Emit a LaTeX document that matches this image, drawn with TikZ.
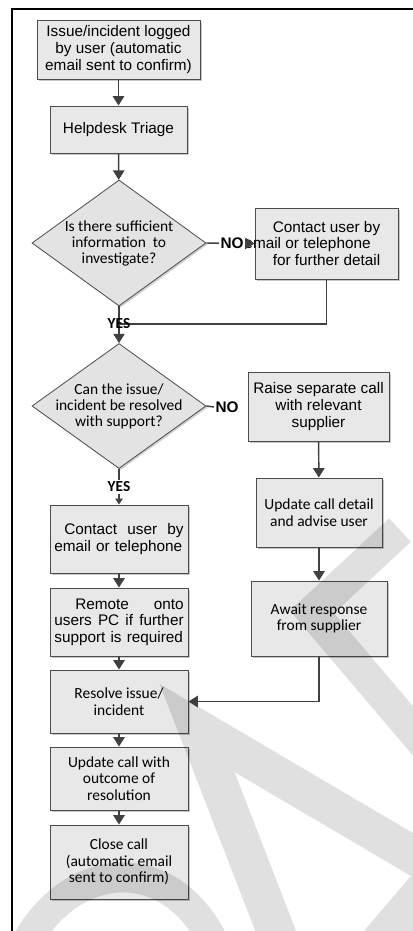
\documentclass[tikz,border=0pt]{standalone}
\usepackage{fontspec}
\setmainfont{Liberation Sans}
\newfontfamily\calibri{Carlito}
\usetikzlibrary{shapes.geometric,arrows.meta,shadows}

\begin{document}
\begin{tikzpicture}[x=0.75pt,y=-0.75pt,
    box/.style={draw=black!70,fill=black!9,line width=0.7pt,inner sep=0pt,align=center,
      drop shadow={shadow xshift=1.2pt,shadow yshift=-1.2pt,fill=black!22,opacity=1},
      font=\fontsize{11.5}{12.5}\selectfont},
    cbox/.style={box,font=\calibri\fontsize{11.6}{12.5}\selectfont},
    decision/.style={diamond,aspect=1.38,draw=black!70,fill=black!11,line width=0.6pt,
      inner sep=-8pt,align=center,
      drop shadow={shadow xshift=1.2pt,shadow yshift=-1.2pt,fill=black!18,opacity=1},
      font=\calibri\fontsize{11.6}{12}\selectfont},
    arr/.style={draw=black!75,line width=1.1pt,-{Triangle[width=8.5pt,length=7pt]}},
    smallarr/.style={draw=black!75,line width=1.1pt,-{Triangle[width=5.5pt,length=4.5pt]}},
    link/.style={draw=black!75,line width=1.1pt},
    answer/.style={inner sep=1pt,font=\bfseries\fontsize{11.5}{12}\selectfont}]
  \useasboundingbox (0,0) rectangle (413,931);

  % frame
  \draw[line width=1.1pt] (12,931) -- (12,9) -- (413,9);

  % left column
  \node[box,minimum width=122.25pt,minimum height=44.25pt] (logged) at (118.5,49.5)
    {Issue/incident logged\\by user (automatic\\email sent to confirm)};
  \node[box,minimum width=102.75pt,minimum height=35.25pt] (triage) at (118.5,129.5)
    {Helpdesk Triage};
  \node[decision,minimum width=130.5pt,minimum height=94.5pt] (enough) at (119,243)
    {Is there sufficient\\information\ \ to\\investigate?};
  \node[decision,minimum width=130.5pt,minimum height=93.75pt] (solvable) at (119,406)
    {Can the issue/\\incident be resolved\\with support?};
  \node[box,minimum width=103.5pt,minimum height=51pt,text width=97pt,align=left] (contact) at (119,539)
    {\hspace*{7.5pt}Contact\hfill user\hfill by\\email or telephone};
  \node[box,minimum width=103.5pt,minimum height=51pt,text width=97pt,align=left] (remote) at (119,622)
    {\hyphenpenalty=10000\hspace*{15.75pt}Remote\hfill onto\\users\hfill PC\hfill if\hfill further\\\mbox{support is required}};
  \node[cbox,minimum width=103.5pt,minimum height=47.25pt] (resolve) at (119,701.5)
    {Resolve\ issue/\\incident};
  \node[cbox,minimum width=103.5pt,minimum height=47.25pt] (outcome) at (119,778.5)
    {Update call with\\outcome of\\resolution};
  \node[cbox,minimum width=103.5pt,minimum height=55.5pt] (close) at (119,862)
    {Close call\\(automatic email\\sent to confirm)};

  % right column
  \node[box,minimum width=107.25pt,minimum height=53.25pt] (askuser) at (326.5,243.5)
    {Contact user by\\\hspace*{-28.4pt}email or telephone\\for further detail};
  \node[box,minimum width=105.75pt,minimum height=51.75pt] (supplier) at (318.5,406.5)
    {Raise separate call\\with relevant\\supplier};
  \node[cbox,minimum width=94.5pt,minimum height=51.75pt] (advise) at (319,512.5)
    {Update call detail\\and advise user};
  \node[cbox,minimum width=102pt,minimum height=56.25pt] (await) at (319,618.5)
    {Await response\\from supplier};

  % connectors
  \coordinate (rejoin) at (119,324);
  \draw[arr] (logged) -- (triage);
  \draw[arr] (triage) -- (enough);
  \draw[arr] (enough.east) -- (askuser.west);
  \node[answer,fill=white] (no1) at (232,243) {NO};
  \draw[link] (askuser.south) |- (rejoin);
  \draw[arr] (enough.south) -- (solvable.north);
  \node[answer,font=\calibri\bfseries\fontsize{11.5}{12}\selectfont] (yes1) at (119,324) {YES};
  \node[answer] (no2) at (227,407) {NO};
  \draw[link] (solvable.east) -- (no2.west);
  \node[answer,fill=white,font=\calibri\bfseries\fontsize{11.5}{12}\selectfont] (yes2) at (119,487) {YES};
  \draw[link] (solvable.south) -- (yes2.north);
  \draw[smallarr] (yes2.south) -- (contact.north);
  \draw[arr] (contact) -- (remote);
  \draw[arr] (remote) -- (resolve);
  \draw[arr] (resolve) -- (outcome);
  \draw[arr] (outcome) -- (close);
  \draw[arr] (supplier) -- (advise);
  \draw[arr] (advise) -- (await);
  \draw[arr] (await.south) |- (resolve.east);

  % watermark strokes
  \begin{scope}[transparency group,opacity=0.12,line cap=round,line join=round]
    \draw[line width=24pt] (400,530) -- (312,612) -- (425,745);
    \draw[line width=28.5pt] (360,965) -- (440,871) -- (197,728) -- (287,960);
    \draw[line width=22.5pt] (25,945) .. controls (70,860) and (170,850) .. (215,945);
  \end{scope}
\end{tikzpicture}
\end{document}
